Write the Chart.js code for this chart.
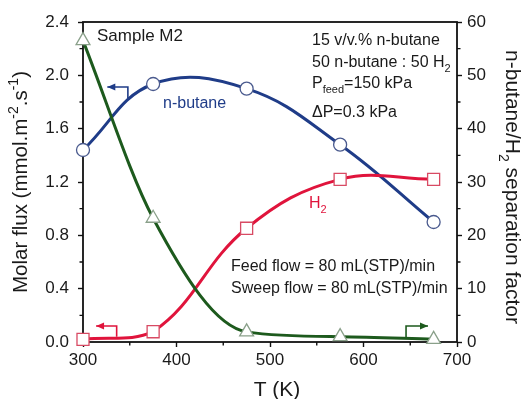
<!DOCTYPE html>
<html>
<head>
<meta charset="utf-8">
<script src="https://cdn.jsdelivr.net/npm/chart.js@4.4.1/dist/chart.umd.min.js"></script>
<style>
  html, body { margin:0; padding:0; background:#fff; }
  #wrap { width:522px; height:399px; position:relative; }
</style>
</head>
<body>
<div id="wrap"><canvas id="chart"></canvas></div>
<script>
// --- data ---
const temps      = [300, 375, 475, 575, 675];          // T (K)
const butaneFlux = [1.44, 1.935, 1.90, 1.48, 0.90];    // mmol.m-2.s-1 (left)
const h2Flux     = [0.02, 0.077, 0.853, 1.22, 1.22];   // mmol.m-2.s-1 (left)
const sepFactor  = [56.5, 23.2, 1.9, 1.0, 0.5];        // n-butane/H2 (right)

const xMajor  = [300, 400, 500, 600, 700];
const yMajor  = [0, 0.4, 0.8, 1.2, 1.6, 2.0, 2.4];
const y2Major = [0, 10, 20, 30, 40, 50, 60];

const BLUE = '#1f3c88', RED = '#e0143c', GREEN = '#1d5a1d';
const FONT = '"Liberation Sans", Arial, Helvetica, sans-serif';
Chart.defaults.font.family = FONT;

const pts = (ys) => temps.map((t, i) => ({ x: t, y: ys[i] }));
const isMajor = (list, v) => list.some(m => Math.abs(m - v) < 1e-6);

// rich text: parts = [[text, 'sub'|'sup'|''], ...]
function drawRich(ctx, parts, x, y, size, color, align='left', rot=0){
  const small = Math.round(size * 0.66);
  const w = parts.reduce((s,[t,m]) => {
    ctx.font = `${m ? small : size}px ${FONT}`;
    return s + ctx.measureText(t).width;
  }, 0);
  ctx.save();
  ctx.translate(x, y); ctx.rotate(rot);
  ctx.fillStyle = color; ctx.textBaseline = 'alphabetic'; ctx.textAlign = 'left';
  let cx = align === 'center' ? -w/2 : 0;
  parts.forEach(([t,m]) => {
    ctx.font = `${m ? small : size}px ${FONT}`;
    const dy = m === 'sub' ? size*0.32 : m === 'sup' ? -size*0.42 : 0;
    ctx.fillText(t, cx, dy);
    cx += ctx.measureText(t).width;
  });
  ctx.restore();
}

function arrow(ctx, path, color){
  ctx.save();
  ctx.strokeStyle = color; ctx.fillStyle = color; ctx.lineWidth = 1.6;
  ctx.beginPath();
  path.forEach(([x,y],i) => i ? ctx.lineTo(x,y) : ctx.moveTo(x,y));
  ctx.stroke();
  const [x1,y1] = path[path.length-2], [x2,y2] = path[path.length-1];
  const a = Math.atan2(y2-y1, x2-x1);
  ctx.beginPath();
  ctx.moveTo(x2, y2);
  ctx.lineTo(x2 - 8*Math.cos(a) + 3.5*Math.sin(a), y2 - 8*Math.sin(a) - 3.5*Math.cos(a));
  ctx.lineTo(x2 - 8*Math.cos(a) - 3.5*Math.sin(a), y2 - 8*Math.sin(a) + 3.5*Math.cos(a));
  ctx.closePath(); ctx.fill();
  ctx.restore();
}

const framePlugin = {
  id: 'frame',
  beforeDatasetsDraw(chart){
    const { ctx, chartArea: a, scales: { x, y, y2 } } = chart;
    ctx.save();
    ctx.strokeStyle = '#111'; ctx.lineWidth = 1.8;
    ctx.strokeRect(a.left, a.top, a.right - a.left, a.bottom - a.top);
    // minor ticks
    ctx.lineWidth = 1.4; ctx.beginPath();
    x.ticks.forEach(t => { if(!isMajor(xMajor, t.value)){ const p = x.getPixelForValue(t.value); ctx.moveTo(p, a.bottom); ctx.lineTo(p, a.bottom + 3.5); }});
    y.ticks.forEach(t => { if(!isMajor(yMajor, t.value)){ const p = y.getPixelForValue(t.value); ctx.moveTo(a.left, p); ctx.lineTo(a.left - 3.5, p); }});
    y2.ticks.forEach(t => { if(!isMajor(y2Major, t.value)){ const p = y2.getPixelForValue(t.value); ctx.moveTo(a.right, p); ctx.lineTo(a.right + 3.5, p); }});
    ctx.stroke();
    ctx.restore();
  },
  afterDatasetsDraw(chart){
    const { ctx, scales: { x, y, y2 } } = chart;
    const P  = (t, v) => [x.getPixelForValue(t), y.getPixelForValue(v)];
    const P2 = (t, v) => [x.getPixelForValue(t), y2.getPixelForValue(v)];

    // axis arrows
    arrow(ctx, [P(348, 1.83), P(348, 1.913), P(326, 1.913)], BLUE);
    arrow(ctx, [P(336, 0.04), P(336, 0.12), P(314, 0.12)], RED);
    arrow(ctx, [P2(645.5, 0.9), P2(645.5, 3.0), P2(669, 3.0)], GREEN);

    // annotations
    const K = '#1a1a1a';
    drawRich(ctx, [['Sample M2','']], 97, 41, 17, K);
    drawRich(ctx, [['15 v/v.% n-butane','']], 312, 45, 16, K);
    drawRich(ctx, [['50 n-butane : 50 H',''],['2','sub']], 312, 67, 16, K);
    drawRich(ctx, [['P',''],['feed','sub'],['=150 kPa','']], 312, 88, 16, K);
    drawRich(ctx, [['\u0394P=0.3 kPa','']], 312, 117, 16, K);
    drawRich(ctx, [['n-butane','']], 163, 108, 16, BLUE);
    drawRich(ctx, [['H',''],['2','sub']], 309, 208, 16, RED);
    drawRich(ctx, [['Feed flow = 80 mL(STP)/min','']], 231, 271, 16, K);
    drawRich(ctx, [['Sweep flow = 80 mL(STP)/min','']], 231, 293, 16, K);

    // axis titles
    drawRich(ctx, [['Molar flux (mmol.m',''],['-2','sup'],['.s',''],['-1','sup'],[')','']], 27, 182, 20.5, K, 'center', -Math.PI/2);
    drawRich(ctx, [['n-butane/H',''],['2','sub'],[' separation factor','']], 506, 187, 21, K, 'center', Math.PI/2);
    drawRich(ctx, [['T (K)','']], 277, 396, 21, K, 'center');
  }
};

const tickFont = { size: 17 };
const tickColorFor = (list) => (c) => (c.tick && isMajor(list, c.tick.value)) ? '#111' : 'rgba(0,0,0,0)';

new Chart(document.getElementById('chart'), {
  type: 'line',
  data: {
    datasets: [
      {
        label: 'separation factor', data: pts(sepFactor), yAxisID: 'y2',
        borderColor: GREEN, borderWidth: 3, cubicInterpolationMode: 'monotone',
        pointStyle: 'triangle', pointRadius: 8, pointBorderWidth: 1.3,
        pointBorderColor: '#8aa08a', pointBackgroundColor: '#fff', clip: false
      },
      {
        label: 'H2', data: pts(h2Flux), yAxisID: 'y',
        borderColor: RED, borderWidth: 3, tension: 0.4,
        pointStyle: 'rect', pointRadius: 8.5, pointBorderWidth: 1.3,
        pointBorderColor: '#d84a63', pointBackgroundColor: '#fff', clip: false
      },
      {
        label: 'n-butane', data: pts(butaneFlux), yAxisID: 'y',
        borderColor: BLUE, borderWidth: 3, tension: 0.4,
        pointStyle: 'circle', pointRadius: 6.5, pointBorderWidth: 1.3,
        pointBorderColor: '#4a5a8e', pointBackgroundColor: '#fff', clip: false
      }
    ]
  },
  options: {
    responsive: true, maintainAspectRatio: false, animation: false,
    layout: { padding: { top: 22, left: 0, right: 0, bottom: 0 } },
    plugins: { legend: { display: false }, tooltip: { enabled: false } },
    scales: {
      x: {
        type: 'linear', min: 300, max: 700,
        afterFit: s => { s.height = 57; },
        border: { display: false },
        grid: { drawOnChartArea: false, tickLength: 5, tickWidth: 1.4, tickColor: tickColorFor(xMajor) },
        ticks: { stepSize: 50, autoSkip: false, maxRotation: 0, padding: 3, color: '#1a1a1a', font: tickFont,
                 callback: v => isMajor(xMajor, v) ? String(v) : '' }
      },
      y: {
        position: 'left', min: 0, max: 2.4,
        afterFit: s => { s.width = 83; },
        border: { display: false },
        grid: { drawOnChartArea: false, tickLength: 5, tickWidth: 1.4, tickColor: tickColorFor(yMajor) },
        ticks: { stepSize: 0.2, autoSkip: false, padding: 9, color: '#1a1a1a', font: tickFont,
                 callback: v => isMajor(yMajor, v) ? v.toFixed(1) : '' }
      },
      y2: {
        position: 'right', min: 0, max: 60,
        afterFit: s => { s.width = 65; },
        border: { display: false },
        grid: { drawOnChartArea: false, tickLength: 5, tickWidth: 1.4, tickColor: tickColorFor(y2Major) },
        ticks: { stepSize: 5, autoSkip: false, padding: 5, color: '#1a1a1a', font: tickFont,
                 callback: v => isMajor(y2Major, v) ? String(v) : '' }
      }
    }
  },
  plugins: [framePlugin]
});
</script>
</body>
</html>
